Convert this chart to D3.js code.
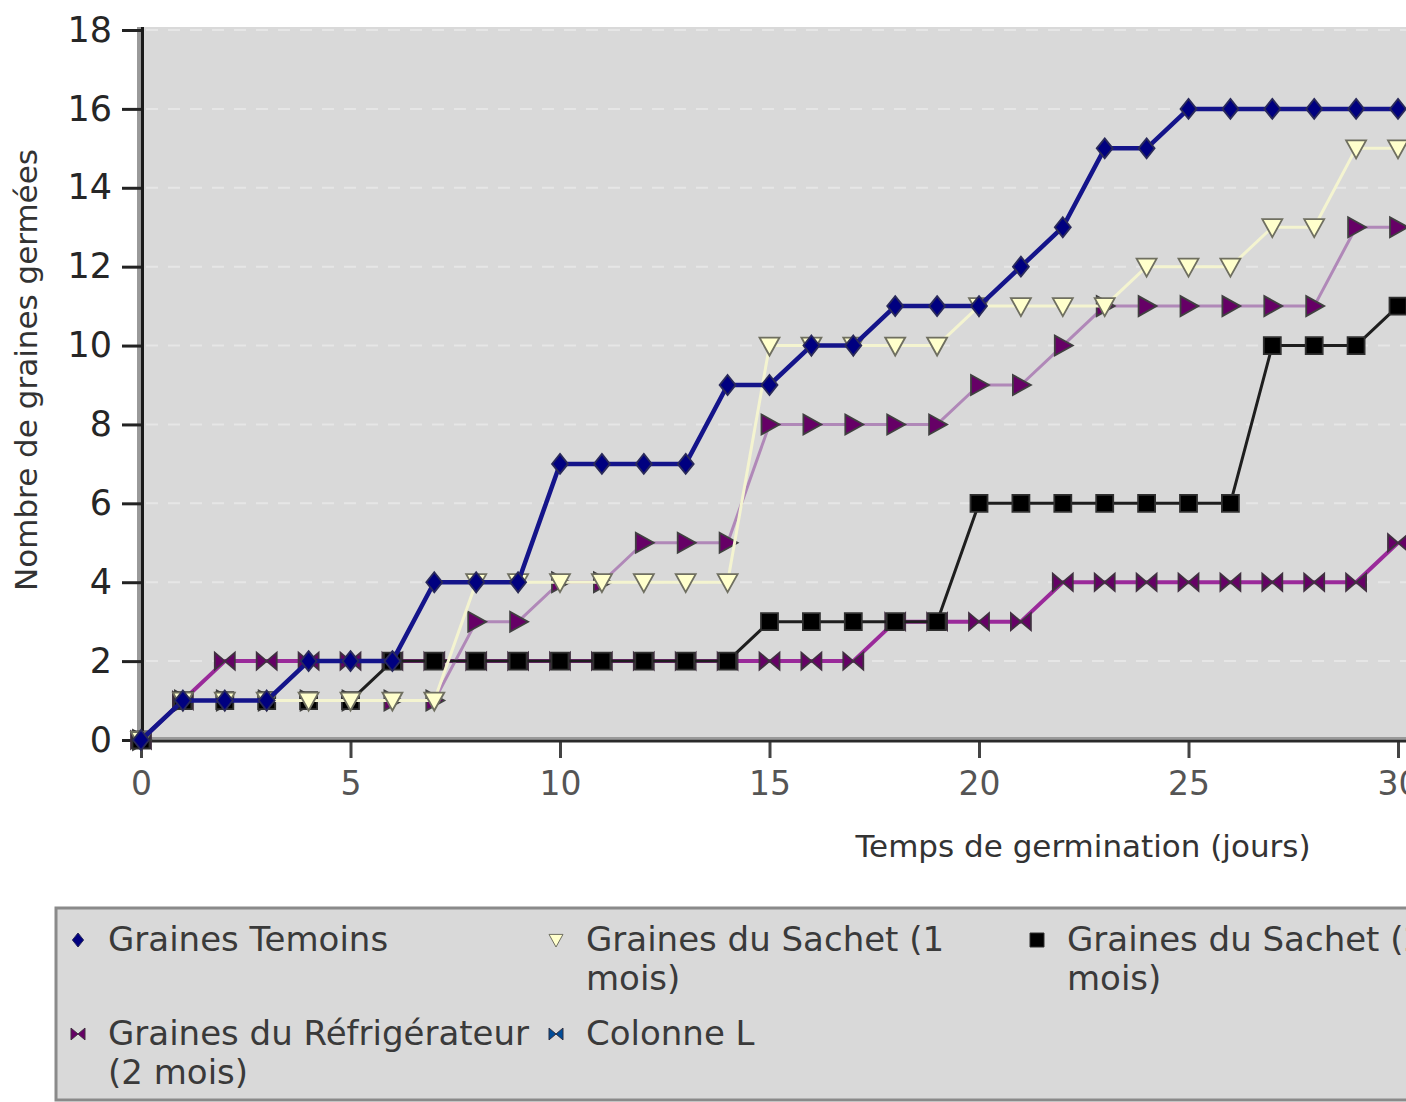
<!DOCTYPE html>
<html>
<head>
<meta charset="utf-8">
<script src="https://cdn.jsdelivr.net/npm/d3@7"></script>
<style>
  html, body { margin: 0; padding: 0; background: #ffffff; overflow: hidden; }
  svg { display: block; font-family: "DejaVu Sans", sans-serif; }
</style>
</head>
<body>
<svg id="chart" width="1406" height="1102"></svg>
<script>
// ---------- data ----------
const days = [0,1,2,3,4,5,6,7,8,9,10,11,12,13,14,15,16,17,18,19,20,21,22,23,24,25,26,27,28,29,30];
const seriesNames = [
  "Graines Temoins",
  "Graines du Sachet (1 mois)",
  "Graines du Sachet (2 mois)",
  "Graines du Réfrigérateur (1 mois)",
  "Graines du Réfrigérateur (2 mois)",
  "Colonne L"
];
const temoins      = [0,1,1,1,2,2,2,4,4,4,7,7,7,7,9,9,10,10,11,11,11,12,13,15,15,16,16,16,16,16,16];
const sachet1      = [0,1,1,1,1,1,1,1,4,4,4,4,4,4,4,10,10,10,10,10,11,11,11,11,12,12,12,13,13,15,15];
const sachet2      = [0,1,1,1,1,1,2,2,2,2,2,2,2,2,2,3,3,3,3,3,6,6,6,6,6,6,6,10,10,10,11];
const refrig1      = [0,1,1,1,1,1,1,1,3,3,4,4,5,5,5,8,8,8,8,8,9,9,10,11,11,11,11,11,11,13,13];
const refrig2      = [0,1,2,2,2,2,2,2,2,2,2,2,2,2,2,2,2,2,3,3,3,3,4,4,4,4,4,4,4,4,5];
const colonneL     = [];
const yTicks = [0,2,4,6,8,10,12,14,16,18];
const xTicks = [0,5,10,15,20,25,30];
const xTitle = "Temps de germination (jours)";
const yTitle = "Nombre de graines germées";

// ---------- styles ----------
const styles = [
  {line:"#14148a", width:4.5, fill:"#000080", stroke:"#2a2a5a", sym:"diamond"},
  {line:"#f4f4d0", width:3,   fill:"#ffffcc", stroke:"#6f6f60", sym:"triDown"},
  {line:"#1e1e1e", width:3,   fill:"#000000", stroke:"#303030", sym:"square"},
  {line:"#b088b8", width:3,   fill:"#660066", stroke:"#404040", sym:"triRight"},
  {line:"#9a2a9a", width:4,   fill:"#660066", stroke:"#403040", sym:"bowtie"},
  {line:"#0050a0", width:3,   fill:"#004c99", stroke:"#303040", sym:"bowtie"}
];
const values = [temoins, sachet1, sachet2, refrig1, refrig2, colonneL];

// ---------- custom symbols (r = half size) ----------
function symPath(type, r) {
  const p = d3.path();
  if (type === "diamond") {
    p.moveTo(0,-r); p.lineTo(r*0.8,0); p.lineTo(0,r); p.lineTo(-r*0.8,0); p.closePath();
  } else if (type === "square") {
    p.rect(-r,-r,2*r,2*r);
  } else if (type === "triDown") {
    p.moveTo(-r,-r*0.8); p.lineTo(r,-r*0.8); p.lineTo(0,r); p.closePath();
  } else if (type === "triRight") {
    p.moveTo(-r*0.8,-r); p.lineTo(r,0); p.lineTo(-r*0.8,r); p.closePath();
  } else if (type === "bowtie") {
    p.moveTo(-r,-r*0.85); p.lineTo(r,r*0.85); p.lineTo(r,-r*0.85); p.lineTo(-r,r*0.85); p.closePath();
  }
  return p.toString();
}

const svg = d3.select("#chart");
const W = 1406, H = 1102;

const x = d3.scaleLinear().domain([0,30]).range([141,1398]);
const y = d3.scaleLinear().domain([0,18]).range([740,30]);

// plot background
svg.append("rect").attr("x",141).attr("y",27).attr("width",W).attr("height",713).attr("fill","#d9d9d9");
svg.append("rect").attr("x",137).attr("y",27).attr("width",4).attr("height",716).attr("fill","#9a9a9a");

// grid
svg.append("g").selectAll("line").data(yTicks.filter(d=>d>0)).join("line")
  .attr("x1",146).attr("x2",W).attr("y1",d=>y(d)).attr("y2",d=>y(d))
  .attr("stroke","#e6e6e6").attr("stroke-width",2).attr("stroke-dasharray","12,10");

// axes
const yAxis = svg.append("g").attr("transform","translate(142,0)")
  .call(d3.axisLeft(y).tickValues(yTicks).tickSize(20).tickPadding(10));
yAxis.select(".domain").remove();
yAxis.selectAll(".tick line").attr("stroke","#222").attr("stroke-width",3);
yAxis.selectAll(".tick text").attr("fill","#262626").attr("font-size",35).attr("font-family","DejaVu Sans");

const xAxis = svg.append("g").attr("transform","translate(0,740)")
  .call(d3.axisBottom(x).tickValues(xTicks).tickSize(18).tickPadding(14));
xAxis.select(".domain").remove();
xAxis.selectAll(".tick line").attr("stroke","#444").attr("stroke-width",3);
xAxis.selectAll(".tick text").attr("fill","#555").attr("font-size",33).attr("font-family","DejaVu Sans");

// axis lines
svg.append("line").attr("x1",142.5).attr("x2",142.5).attr("y1",27).attr("y2",742).attr("stroke","#1a1a1a").attr("stroke-width",3);
svg.append("line").attr("x1",137).attr("x2",W).attr("y1",738).attr("y2",738).attr("stroke","#9a9a9a").attr("stroke-width",2);
svg.append("line").attr("x1",137).attr("x2",W).attr("y1",741).attr("y2",741).attr("stroke","#2a2a2a").attr("stroke-width",3);

// series (draw in reverse so first series is on top)
const line = d3.line().x(d=>x(d[0])).y(d=>y(d[1]));
const order = [5,4,3,2,1,0];
const sg = svg.append("g");
order.forEach(i => {
  const pts = values[i].map((v,k)=>[days[k], v]);
  if (!pts.length) return;
  const st = styles[i];
  const g = sg.append("g");
  g.append("path").attr("d", line(pts)).attr("fill","none")
    .attr("stroke", st.line).attr("stroke-width", st.width).attr("stroke-linejoin","round");
  g.selectAll("path.m").data(pts).join("path").attr("class","m")
    .attr("transform", d=>`translate(${x(d[0])},${y(d[1])})`)
    .attr("d", symPath(st.sym, st.sym==="square" ? 8.5 : 10))
    .attr("fill", st.fill).attr("stroke", st.stroke).attr("stroke-width", 1.8);
});

// axis titles
svg.append("text").attr("x",1083).attr("y",857).attr("text-anchor","middle")
  .attr("font-size",31).attr("fill","#333").text(xTitle);
svg.append("text").attr("transform","translate(37,370) rotate(-90)").attr("text-anchor","middle")
  .attr("font-size",31).attr("fill","#333").text(yTitle);

// legend
svg.append("rect").attr("x",56).attr("y",908).attr("width",W).attr("height",192)
  .attr("fill","#d9d9d9").attr("stroke","#8a8a8a").attr("stroke-width",3);
const colX = [78, 556, 1037, 1518];
const rowY = [951, 1045];
const leg = svg.append("g").attr("font-size",34).attr("fill","#3a3a3a");
seriesNames.forEach((name,i) => {
  const c = i % 4, r = Math.floor(i / 4);
  const mx = colX[c], by = rowY[r];
  const st = styles[i];
  leg.append("path").attr("transform",`translate(${mx},${by-11})`)
    .attr("d", symPath(st.sym, 7)).attr("fill", st.fill).attr("stroke", st.stroke).attr("stroke-width",1);
  const t = leg.append("text").attr("x", mx+30).attr("y", by);
  const words = name.split(" ");
  let lineWords = [], lineNo = 0;
  let ts = t.append("tspan").attr("x", mx+30).attr("y", by);
  words.forEach(w => {
    lineWords.push(w);
    ts.text(lineWords.join(" "));
    if (ts.node().getComputedTextLength() > 440 && lineWords.length > 1) {
      lineWords.pop();
      ts.text(lineWords.join(" "));
      lineWords = [w];
      lineNo++;
      ts = t.append("tspan").attr("x", mx+30).attr("y", by + lineNo*39).text(w);
    }
  });
});
</script>
</body>
</html>
